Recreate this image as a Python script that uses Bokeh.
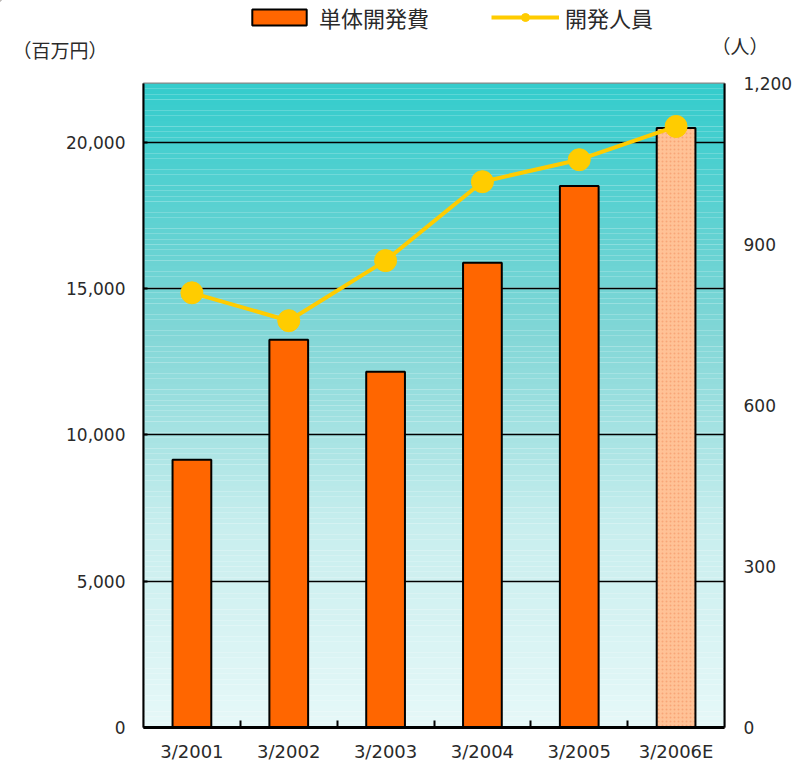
import numpy as np
from bokeh.plotting import figure
from bokeh.layouts import column
from bokeh.models import (ColumnDataSource, Range1d, LinearAxis, FixedTicker,
                          NumeralTickFormatter, Legend, LegendItem, Label)
from bokeh.embed import file_html
from bokeh.resources import INLINE

# ---- data ----
categories = ["3/2001", "3/2002", "3/2003", "3/2004", "3/2005", "3/2006E"]
dev_cost = [9150, 13250, 12150, 15880, 18500, 20480]      # 単体開発費 (百万円)
dev_staff = [810, 758, 870, 1017, 1058, 1120]             # 開発人員 (人)
left_ticks = [0, 5000, 10000, 15000, 20000]
right_ticks = [0, 300, 600, 900, 1200]
estimate_flags = [False, False, False, False, False, True]
series_names = ["単体開発費", "開発人員"]
unit_left = "（百万円）"
unit_right = "（人）"

FONT = "Noto Sans CJK JP"
NUM_FONT = "DejaVu Sans"
TXT = "#2a2a2a"
Y_MAX = 22000
R_MAX = 1200
W = 800
HEAD_H = 71
MAIN_H = 767 - HEAD_H

BAR_COLOR = "#FF6600"
LINE_COLOR = "#FFCC00"

xs = np.arange(len(categories)) + 0.5

# ================= main chart =================
p = figure(width=W, height=MAIN_H, output_backend="svg", toolbar_location=None,
           x_range=Range1d(0, len(categories)), y_range=Range1d(0, Y_MAX),
           min_border_left=143, min_border_right=76, min_border_top=12,
           min_border_bottom=40)
p.extra_y_ranges = {"staff": Range1d(0, R_MAX)}
p.background_fill_color = "white"
p.border_fill_color = "white"
p.outline_line_color = "#888888"
p.outline_line_width = 2

# gradient background (styling)
stops_t = [0.0, 0.38, 0.69, 1.0]
stops_c = np.array([[51, 204, 204], [128, 214, 214], [200, 238, 238], [230, 248, 248]])
nb = 120
edges = np.linspace(Y_MAX, 0, nb + 1)
cols = []
for i in range(nb):
    t = (i + 0.5) / nb
    rgb = [int(round(np.interp(t, stops_t, stops_c[:, k]))) for k in range(3)]
    cols.append("#%02x%02x%02x" % tuple(rgb))
bg = p.quad(left=0, right=len(categories), top=edges[:-1], bottom=edges[1:],
            fill_color=cols, line_color=None)
bg.level = "image"

p.xgrid.visible = False
p.ygrid.ticker = FixedTicker(ticks=left_ticks)
p.ygrid.grid_line_color = "black"
p.ygrid.grid_line_width = 1.5

src = ColumnDataSource(dict(x=xs, cost=dev_cost, staff=dev_staff))
actual = [i for i, f in enumerate(estimate_flags) if not f]
est = [i for i, f in enumerate(estimate_flags) if f]
src_a = ColumnDataSource(dict(x=xs[actual], cost=[dev_cost[i] for i in actual]))
src_e = ColumnDataSource(dict(x=xs[est], cost=[dev_cost[i] for i in est]))
p.vbar(x="x", top="cost", width=0.4, source=src_a, fill_color=BAR_COLOR,
       line_color="black", line_width=2)
p.vbar(x="x", top="cost", width=0.4, source=src_e, fill_color="#FFC296",
       line_color="black", line_width=2, hatch_pattern="dot",
       hatch_color="#F59A6A", hatch_scale=4, hatch_alpha=0.7)

p.line(x="x", y="staff", source=src, y_range_name="staff",
       line_color=LINE_COLOR, line_width=4)
p.scatter(x="x", y="staff", source=src, y_range_name="staff", size=22,
          fill_color=LINE_COLOR, line_color=LINE_COLOR)

ax = p.xaxis[0]
ax.ticker = FixedTicker(ticks=list(xs), minor_ticks=list(np.arange(1, len(categories))))
ax.major_label_overrides = {float(x): c for x, c in zip(xs, categories)}
ax.major_tick_in = 0
ax.major_tick_out = 0
ax.minor_tick_in = 7
ax.minor_tick_out = 0
ax.minor_tick_line_color = "black"
ax.minor_tick_line_width = 2
ax.axis_line_width = 3
ax.major_label_text_font = NUM_FONT
ax.major_label_text_font_size = "18px"
ax.major_label_text_color = TXT
ax.major_label_standoff = 13

ay = p.yaxis[0]
ay.ticker = FixedTicker(ticks=left_ticks)
ay.formatter = NumeralTickFormatter(format="0,0")
ay.major_tick_in = 4
ay.major_tick_out = 0
ay.minor_tick_in = 0
ay.minor_tick_out = 0
ay.axis_line_width = 2
ay.major_tick_line_width = 2
ay.major_label_text_font = NUM_FONT
ay.major_label_text_font_size = "17px"
ay.major_label_text_color = TXT
ay.major_label_standoff = 18

ar = LinearAxis(y_range_name="staff", ticker=FixedTicker(ticks=right_ticks),
                formatter=NumeralTickFormatter(format="0,0"))
ar.major_tick_in = 0
ar.major_tick_out = 0
ar.minor_tick_in = 0
ar.minor_tick_out = 0
ar.axis_line_width = 2
ar.major_label_text_font = NUM_FONT
ar.major_label_text_font_size = "17px"
ar.major_label_text_color = TXT
ar.major_label_standoff = 19
p.add_layout(ar, "right")

# ================= header: legend + unit labels =================
h = figure(frame_width=W, frame_height=HEAD_H, output_backend="svg",
           toolbar_location=None, x_range=Range1d(0, W), y_range=Range1d(HEAD_H, 0),
           x_axis_type=None, y_axis_type=None, min_border=0)
if "frame_align" in h.properties():
    h.frame_align = False
h.outline_line_color = None
h.xgrid.visible = False
h.ygrid.visible = False
h.background_fill_color = "white"
h.border_fill_color = "white"

# legend proxies (kept outside the header's visible ranges)
lg_bar = h.vbar(x=[-100], top=[-100], bottom=[-110], width=1, fill_color=BAR_COLOR,
                line_color="black", line_width=2)
lg_line = h.line(x=[-110, -100], y=[-100, -100], line_color=LINE_COLOR, line_width=4)
lg_pt = h.scatter(x=[-100], y=[-100], size=10, fill_color=LINE_COLOR,
                  line_color=LINE_COLOR)

leg = Legend(items=[LegendItem(label=series_names[0], renderers=[lg_bar]),
                    LegendItem(label=series_names[1], renderers=[lg_line, lg_pt])],
             orientation="horizontal", location=(245, 38),
             glyph_width=68, glyph_height=20, label_standoff=6, spacing=62,
             padding=0, margin=0, border_line_color=None,
             background_fill_alpha=0, label_text_font=FONT,
             label_text_font_size="22px", label_text_color=TXT)
h.add_layout(leg, "center")

h.add_layout(Label(x=12, y=49, text=unit_left, text_font=FONT,
                   text_font_size="19px", text_baseline="middle", text_color=TXT))
h.add_layout(Label(x=711, y=45, text=unit_right, text_font=FONT,
                   text_font_size="19px", text_baseline="middle", text_color=TXT))

open("out.html", "w").write(file_html(column(h, p, spacing=0), INLINE))
